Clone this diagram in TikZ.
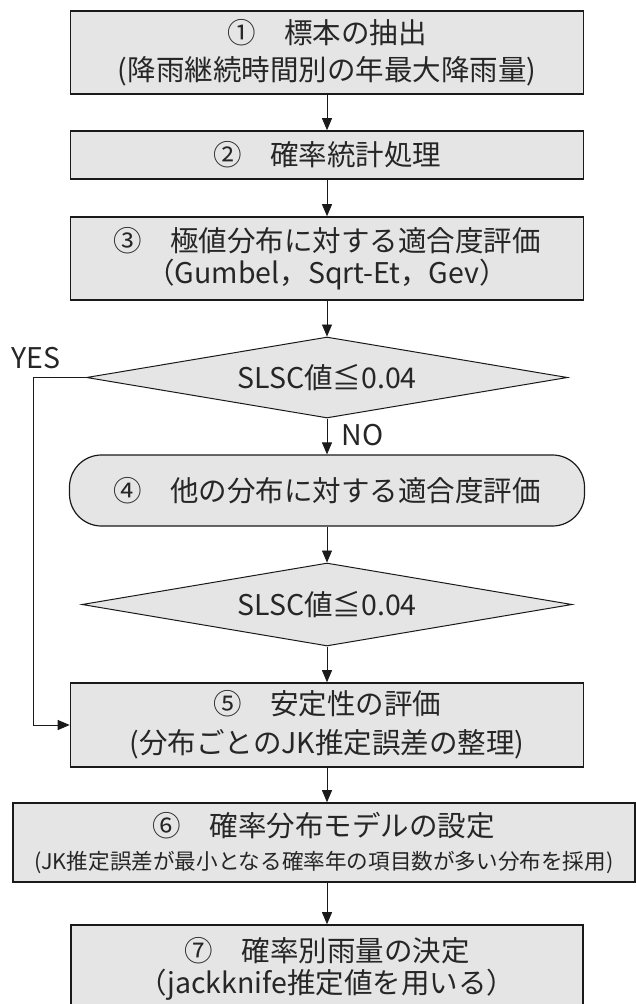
\documentclass[tikz,border=0pt]{standalone}
\usepackage{fontspec}
\setmainfont{Noto Sans CJK JP}
\usetikzlibrary{shapes.geometric,arrows.meta}
\definecolor{boxgray}{HTML}{E5E5E5}
\definecolor{ink}{HTML}{1A1A1A}
\definecolor{textink}{HTML}{262626}
\begin{document}
\begin{tikzpicture}[x=1pt,y=-1pt,
  big/.style={font=\fontsize{28.5}{37}\selectfont},
  box/.style={draw=ink,line width=1.6pt,fill=boxgray,inner sep=0pt,align=center,text=textink,big},
  decision/.style={diamond,aspect=5.9,draw=ink,line width=1pt,fill=boxgray,inner sep=0pt,text=textink,big},
  conn/.style={draw=ink,line width=0.9pt,-{Triangle[length=12pt,width=10pt]}},
  lbl/.style={text=textink,big,inner sep=0pt}]
\useasboundingbox (0,0) rectangle (635,1004);
\node[box,minimum width=513pt,minimum height=83pt] (b1) at (327,52.5)
  {①　標本の抽出\\(降雨継続時間別の年最大降雨量)};
\node[box,minimum width=513pt,minimum height=48pt] (b2) at (327,155)
  {②　確率統計処理};
\node[box,minimum width=513pt,minimum height=83pt] (b3) at (327,258.5)
  {③　極値分布に対する適合度評価\\[-5pt]（Gumbel，Sqrt-Et，Gev）};
\node[decision,minimum width=481pt,minimum height=81pt] (d1) at (327,377.5)
  {SLSC値≦0.04};
\node[box,line width=1.2pt,rounded corners=32pt,minimum width=515pt,minimum height=71pt] (b4) at (327,490.5)
  {④　他の分布に対する適合度評価};
\node[decision,minimum width=490pt,minimum height=83pt] (d2) at (327,604.5)
  {SLSC値≦0.04};
\node[box,minimum width=513pt,minimum height=84pt] (b5) at (327,725)
  {⑤　安定性の評価\\[2pt](分布ごとのJK推定誤差の整理)};
\node[box,minimum width=622pt,minimum height=79pt] (b6) at (324,842.5)
  {⑥　確率分布モデルの設定\\[-4pt]{\fontsize{21.6}{26}\selectfont (JK推定誤差が最小となる確率年の項目数が多い分布を採用)}};
\node[box,minimum width=512pt,minimum height=88pt] (b7) at (327,969)
  {⑦　確率別雨量の決定\\[-5pt]（jackknife推定値を用いる）};
\coordinate (yc) at (33,377.5);
\draw[conn] (b1) -- (b2);
\draw[conn] (b2) -- (b3);
\draw[conn] (b3) -- (d1);
\draw[conn] (d1) -- (b4);
\draw[conn] (b4) -- (d2);
\draw[conn] (d2) -- (b5);
\draw[conn] (b5.south) -- (b5.south |- b6.north);
\draw[conn] (b6.south -| b7.north) -- (b7.north);
\draw[conn] (d1.west) -- (yc) |- (b5.west);
\node[lbl] (yes) at (36,358) {YES};
\node[lbl] (no) at (362.5,435) {NO};
\end{tikzpicture}
\end{document}
